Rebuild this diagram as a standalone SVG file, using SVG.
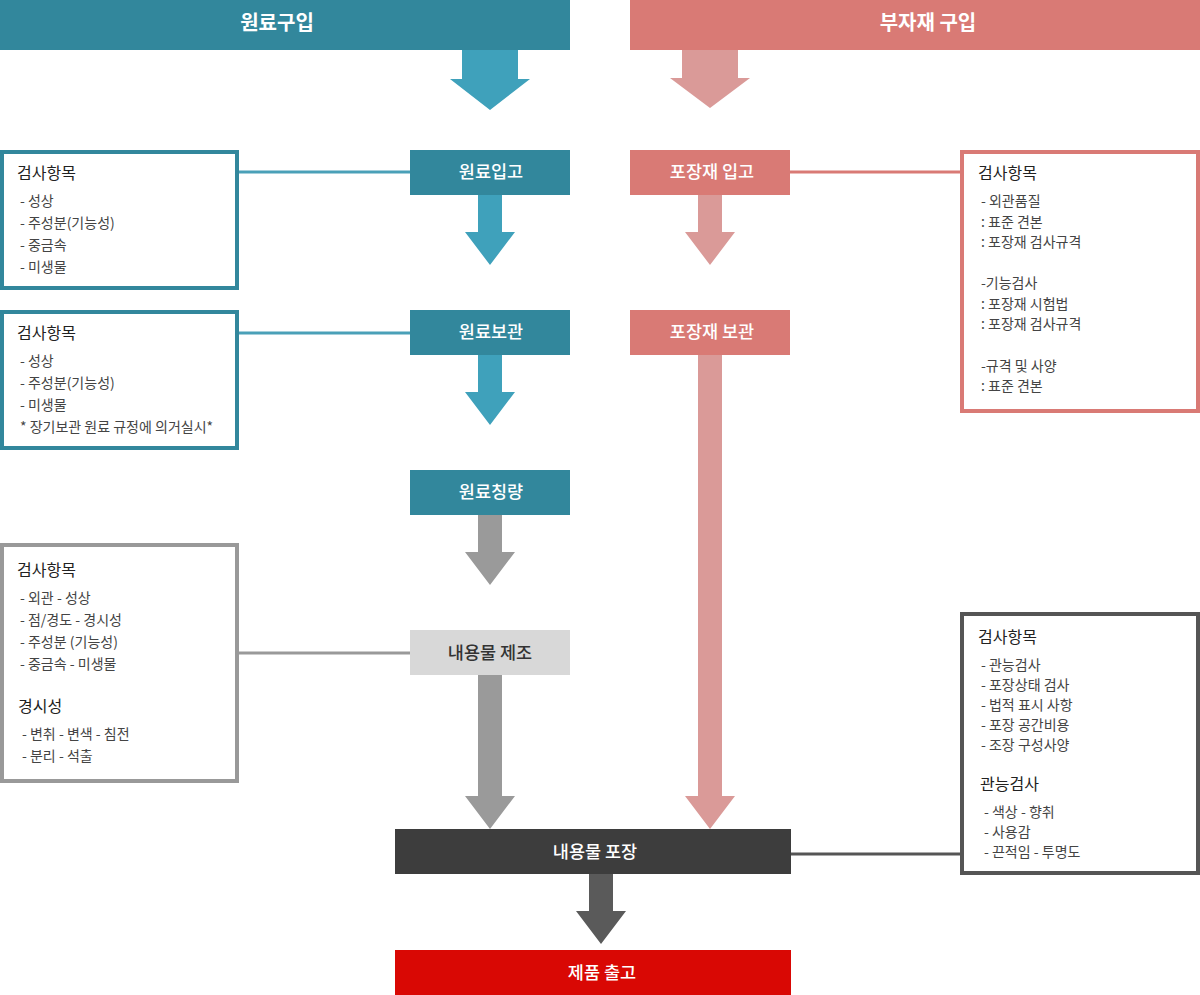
<svg xmlns="http://www.w3.org/2000/svg" width="1200" height="995" viewBox="0 0 1200 995">
<style>
text{font-family:"Noto Sans CJK KR","Noto Sans",sans-serif}
.hd{font-size:20px;font-weight:700;fill:#fff;text-anchor:middle}
.nl{font-size:17.5px;font-weight:500;fill:#fff;text-anchor:middle}
.nd{font-size:17.5px;font-weight:500;fill:#333;text-anchor:middle}
.tt{font-size:16px;fill:#222}
.it{font-size:14px;fill:#444}
.bx{fill:#fff;stroke-width:4}
</style>
<rect width="1200" height="995" fill="#fff"/>
<g id="connectors">
<line x1="239" y1="172" x2="410" y2="172" stroke="#4aa0b8" stroke-width="3"/>
<line x1="239" y1="333" x2="410" y2="333" stroke="#4aa0b8" stroke-width="3"/>
<line x1="239" y1="653" x2="410" y2="653" stroke="#999" stroke-width="3"/>
<line x1="790" y1="172" x2="960" y2="172" stroke="#d97a75" stroke-width="3"/>
<line x1="791" y1="854" x2="960" y2="854" stroke="#555" stroke-width="3"/>
<polygon points="462,50 518,50 518,79 530,79 490,110 450,79 462,79" fill="#3fa1bb"/>
<polygon points="682,50 738,50 738,78 750,78 710,108 670,78 682,78" fill="#da9a98"/>
<polygon points="478,195 502,195 502,232 515,232 490,265 465,232 478,232" fill="#3fa1bb"/>
<polygon points="478,355 502,355 502,392 515,392 490,425 465,392 478,392" fill="#3fa1bb"/>
<polygon points="478,515 502,515 502,552 515,552 490,585 465,552 478,552" fill="#9a9a9a"/>
<polygon points="478,675 502,675 502,796 515,796 490,829 465,796 478,796" fill="#9a9a9a"/>
<polygon points="698,195 722,195 722,232 735,232 710,265 685,232 698,232" fill="#da9a98"/>
<polygon points="698,355 722,355 722,796 735,796 710,829 685,796 698,796" fill="#da9a98"/>
<polygon points="589,874 613,874 613,911 626,911 601,944 576,911 589,911" fill="#5a5a5a"/>
</g>
<g id="h1"><rect x="0" y="0" width="570" height="50" fill="#32879c"/><text class="hd" x="277" y="30">원료구입</text></g>
<g id="h2"><rect x="630" y="0" width="570" height="50" fill="#d97a75"/><text class="hd" x="928" y="30">부자재 구입</text></g>
<g id="n1"><rect x="410" y="150" width="160" height="45" fill="#32879c"/><text class="nl" x="491" y="178">원료입고</text></g>
<g id="n2"><rect x="410" y="310" width="160" height="45" fill="#32879c"/><text class="nl" x="491" y="338">원료보관</text></g>
<g id="n3"><rect x="410" y="470" width="160" height="45" fill="#32879c"/><text class="nl" x="491" y="498">원료칭량</text></g>
<g id="n4"><rect x="410" y="630" width="160" height="45" fill="#d8d8d8"/><text class="nd" x="490" y="659">내용물 제조</text></g>
<g id="n5"><rect x="630" y="150" width="160" height="45" fill="#d97a75"/><text class="nl" x="712" y="178">포장재 입고</text></g>
<g id="n6"><rect x="630" y="310" width="160" height="45" fill="#d97a75"/><text class="nl" x="712" y="338">포장재 보관</text></g>
<g id="n7"><rect x="395" y="829" width="396" height="45" fill="#3d3d3d"/><text class="nl" x="595" y="858">내용물 포장</text></g>
<g id="n8"><rect x="395" y="950" width="396" height="45" fill="#d90804"/><text class="nl" x="602" y="979">제품 출고</text></g>
<g id="b1"><rect class="bx" x="2" y="152" width="235" height="136" stroke="#32879c"/>
<text class="tt" x="17" y="179">검사항목</text>
<text class="it" x="20" y="206">- 성상</text><text class="it" x="20" y="228">- 주성분(기능성)</text><text class="it" x="20" y="250">- 중금속</text><text class="it" x="20" y="272">- 미생물</text></g>
<g id="b2"><rect class="bx" x="2" y="312" width="235" height="136" stroke="#32879c"/>
<text class="tt" x="17" y="339">검사항목</text>
<text class="it" x="20" y="366">- 성상</text><text class="it" x="20" y="388">- 주성분(기능성)</text><text class="it" x="20" y="410">- 미생물</text><text class="it" x="20" y="432">* 장기보관 원료 규정에 의거실시*</text></g>
<g id="b3"><rect class="bx" x="2" y="545" width="235" height="236" stroke="#999"/>
<text class="tt" x="17" y="576">검사항목</text>
<text class="it" x="20" y="603">- 외관 - 성상</text><text class="it" x="20" y="625">- 점/경도 - 경시성</text><text class="it" x="20" y="647">- 주성분 (기능성)</text><text class="it" x="20" y="669">- 중금속 - 미생물</text>
<text class="tt" x="18" y="712">경시성</text>
<text class="it" x="22" y="739">- 변취 - 변색 - 침전</text><text class="it" x="22" y="761">- 분리 - 석출</text></g>
<g id="b4"><rect class="bx" x="962" y="152" width="236" height="259" stroke="#d97a75"/>
<text class="tt" x="978" y="179">검사항목</text>
<text class="it" x="981" y="206">- 외관품질</text><text class="it" x="981" y="227">: 표준 견본</text><text class="it" x="981" y="247">: 포장재 검사규격</text>
<text class="it" x="981" y="288">-기능검사</text><text class="it" x="981" y="309">: 포장재 시험법</text><text class="it" x="981" y="329">: 포장재 검사규격</text>
<text class="it" x="981" y="371">-규격 및 사양</text><text class="it" x="981" y="391">: 표준 견본</text></g>
<g id="b5"><rect class="bx" x="962" y="614" width="236" height="259" stroke="#555"/>
<text class="tt" x="978" y="643">검사항목</text>
<text class="it" x="981" y="670">- 관능검사</text><text class="it" x="981" y="690">- 포장상태 검사</text><text class="it" x="981" y="710">- 법적 표시 사항</text><text class="it" x="981" y="730">- 포장 공간비용</text><text class="it" x="981" y="750">- 조장 구성사양</text>
<text class="tt" x="980" y="790">관능검사</text>
<text class="it" x="984" y="817">- 색상 - 향취</text><text class="it" x="984" y="837">- 사용감</text><text class="it" x="984" y="857">- 끈적임 - 투명도</text></g>
</svg>
